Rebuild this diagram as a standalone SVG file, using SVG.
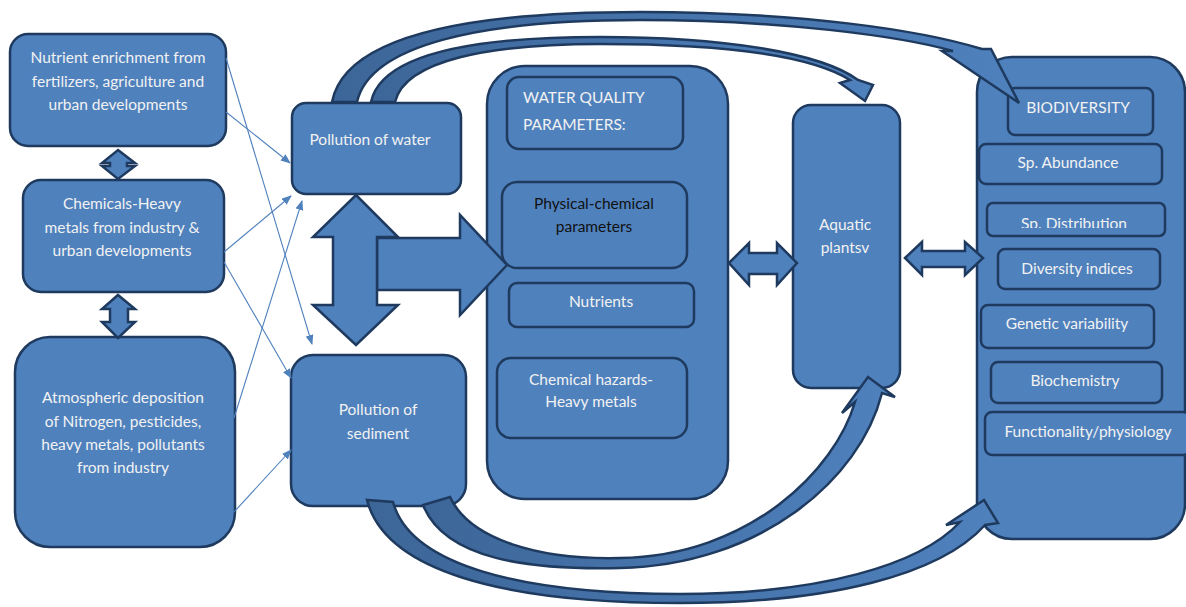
<svg xmlns="http://www.w3.org/2000/svg" width="1186" height="607" viewBox="0 0 1186 607">
<style>
.box{fill:#4F81BD;stroke:#1F3A5F;stroke-width:2.5}
.blk{fill:#4F81BD;stroke:#1F3A5F;stroke-width:2.5;stroke-linejoin:miter}
.thin{fill:none;stroke:#4F81BD;stroke-width:1.1}
text{font-family:Lato,"Liberation Sans",sans-serif;font-size:15.5px;fill:#F2F2F2;text-anchor:middle}
.dark{fill:#111}
.st{text-anchor:start}
</style>
<defs>
<marker id="ah" markerWidth="10" markerHeight="8" refX="9" refY="4" orient="auto" markerUnits="userSpaceOnUse">
<path d="M0,0 L10,4 L0,8 Z" fill="#4F81BD"/>
</marker>
<linearGradient id="gTop" x1="0" y1="0" x2="1" y2="0">
<stop offset="0" stop-color="#3D6698"/><stop offset="1" stop-color="#4F81BD"/>
</linearGradient>
<linearGradient id="gBot" x1="0" y1="0" x2="1" y2="0">
<stop offset="0" stop-color="#3D6698"/><stop offset="1" stop-color="#4F81BD"/>
</linearGradient>
<clipPath id="clipDist"><rect x="987" y="203" width="180" height="25"/></clipPath>
</defs>

<g id="n-nutrient">
<rect class="box" x="10" y="34" width="216" height="112" rx="18"/>
<text x="118" y="63">Nutrient enrichment from</text>
<text x="118" y="87">fertilizers, agriculture and</text>
<text x="118" y="110">urban developments</text>
</g>
<g id="n-chemicals">
<rect class="box" x="23" y="180" width="201" height="112" rx="18"/>
<text x="122" y="209">Chemicals-Heavy</text>
<text x="122" y="233">metals from industry &amp;</text>
<text x="122" y="256">urban developments</text>
</g>
<g id="n-atmospheric">
<rect class="box" x="15" y="337" width="220" height="210" rx="35"/>
<text x="123" y="403">Atmospheric deposition</text>
<text x="123" y="427">of Nitrogen, pesticides,</text>
<text x="123" y="450">heavy metals, pollutants</text>
<text x="123" y="473">from industry</text>
</g>
<g id="n-water">
<rect class="box" x="292" y="103" width="169" height="91" rx="14"/>
<text x="370" y="145">Pollution of water</text>
</g>
<g id="n-sediment">
<rect class="box" x="291" y="355" width="175" height="151" rx="22"/>
<text x="378" y="415">Pollution of</text>
<text x="378" y="439">sediment</text>
</g>
<g id="n-wq">
<rect class="box" x="487" y="66" width="241" height="433" rx="38"/>
<rect class="box" x="507" y="77" width="176" height="72" rx="12"/>
<text class="st" x="523" y="103">WATER QUALITY</text>
<text class="st" x="523" y="130">PARAMETERS:</text>
<rect class="box" x="502" y="182" width="185" height="86" rx="15"/>
<text class="dark" x="594" y="209">Physical-chemical</text>
<text class="dark" x="594" y="232">parameters</text>
<rect class="box" x="509" y="283" width="185" height="44" rx="8"/>
<text x="601" y="307">Nutrients</text>
<rect class="box" x="497" y="358" width="190" height="80" rx="14"/>
<text x="591" y="385">Chemical hazards-</text>
<text x="591" y="407">Heavy metals</text>
</g>
<g id="n-aquatic">
<rect class="box" x="793" y="105" width="107" height="283" rx="18"/>
<text x="845" y="230">Aquatic</text>
<text x="845" y="253">plantsv</text>
</g>
<g id="n-bio">
<rect class="box" x="977" y="57" width="208" height="482" rx="35"/>
<rect class="box" x="1008" y="88" width="145" height="47" rx="7"/>
<text x="1078" y="113">BIODIVERSITY</text>
<rect class="box" x="979" y="144" width="183" height="40" rx="7"/>
<text x="1068" y="168">Sp. Abundance</text>
<rect class="box" x="987" y="203" width="178" height="33" rx="6"/>
<text x="1074" y="229" clip-path="url(#clipDist)">Sp. Distribution</text>
<rect class="box" x="998" y="249" width="162" height="40" rx="7"/>
<text x="1077" y="274">Diversity indices</text>
<rect class="box" x="981" y="305" width="173" height="43" rx="7"/>
<text x="1067" y="329">Genetic variability</text>
<rect class="box" x="991" y="362" width="171" height="41" rx="7"/>
<text x="1075" y="386">Biochemistry</text>
<rect class="box" x="985" y="412" width="205" height="43" rx="7"/>
<text x="1088" y="437">Functionality/physiology</text>
</g>

<g id="connectors">
<line class="thin" x1="226" y1="58" x2="312" y2="344" marker-end="url(#ah)"/>
<line class="thin" x1="226" y1="112" x2="290" y2="163" marker-end="url(#ah)"/>
<line class="thin" x1="224" y1="252" x2="291" y2="196" marker-end="url(#ah)"/>
<line class="thin" x1="224" y1="262" x2="291" y2="378" marker-end="url(#ah)"/>
<line class="thin" x1="234" y1="418" x2="302" y2="201" marker-end="url(#ah)"/>
<line class="thin" x1="234" y1="512" x2="291" y2="450" marker-end="url(#ah)"/>

<path class="blk" d="M118,150 L135,163 L127,163 L127,166 L135,166 L118,179 L102,166 L110,166 L110,163 L102,163 Z"/>
<path class="blk" d="M118,295 L135,309 L128,309 L128,322 L135,322 L118,338 L102,322 L110,322 L110,309 L102,309 Z"/>

<path class="blk" d="M377,238 L460,238 L460,215 L507,265 L460,315 L460,290 L377,290 Z"/>
<path class="blk" d="M356,195 L398,237 L377,237 L377,305 L398,305 L356,345 L313,305 L333,305 L333,237 L313,237 Z"/>

<path class="blk" d="M729,263 L749,243 L749,253 L777,253 L777,243 L797,263 L777,285 L777,274 L749,274 L749,285 Z"/>
<path class="blk" d="M905,258 L922,242 L922,251 L965,251 L965,242 L983,258 L965,275 L965,267 L922,267 L922,275 Z"/>

<path class="blk" style="fill:url(#gTop)" d="M332,102 C345,35 470,12 640,12 C800,12 920,30 982,49 L991,49 L1019,103 L942,51 L953,51 C900,36 780,20 640,20 C480,20 370,45 357,102 Z"/>
<path class="blk" style="fill:url(#gTop)" d="M371,102 C382,52 480,37 600,37 C720,37 820,52 858,80 L873,85 L865,101 L840,83 L850,80 C810,55 720,44 600,44 C490,44 405,60 395,102 Z"/>
<path class="blk" style="fill:url(#gBot)" d="M423,505 C445,560 530,570 620,568 C760,565 860,480 882,393 L895,397 L868,377 L842,413 L855,402 C835,470 750,556 620,558 C540,560 470,540 450,497 Z"/>
<path class="blk" style="fill:url(#gBot)" d="M367,500 C385,570 500,603 680,603 C830,603 940,575 985,525 L998,523 L984,500 L946,525 L960,522 C920,565 820,594 680,594 C520,594 410,565 393,502 Z"/>
</g>
</svg>
